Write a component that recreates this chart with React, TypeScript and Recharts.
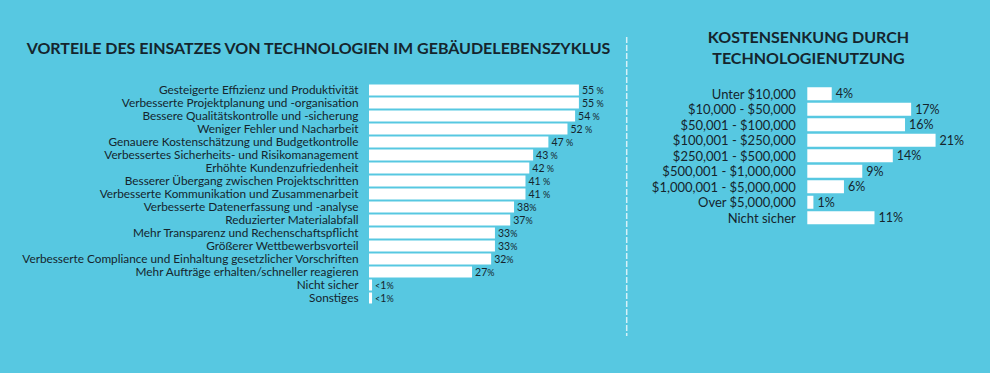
import React from "react";
import { BarChart, Bar, XAxis, YAxis, LabelList } from "recharts";

const benefitCategories = [
  "Gesteigerte Effizienz und Produktivität",
  "Verbesserte Projektplanung und -organisation",
  "Bessere Qualitätskontrolle und -sicherung",
  "Weniger Fehler und Nacharbeit",
  "Genauere Kostenschätzung und Budgetkontrolle",
  "Verbessertes Sicherheits- und Risikomanagement",
  "Erhöhte Kundenzufriedenheit",
  "Besserer Übergang zwischen Projektschritten",
  "Verbesserte Kommunikation und Zusammenarbeit",
  "Verbesserte Datenerfassung und -analyse",
  "Reduzierter Materialabfall",
  "Mehr Transparenz und Rechenschaftspflicht",
  "Größerer Wettbewerbsvorteil",
  "Verbesserte Compliance und Einhaltung gesetzlicher Vorschriften",
  "Mehr Aufträge erhalten/schneller reagieren",
  "Nicht sicher",
  "Sonstiges",
];
const benefitValues = [55, 55, 54, 52, 47, 43, 42, 41, 41, 38, 37, 33, 33, 32, 27, 0.8, 0.8];
const benefitLabels = [
  "55 %", "55 %", "54 %", "52 %", "47 %", "43 %", "42 %", "41 %", "41 %",
  "38%", "37%", "33%", "33%", "32%", "27%", "<1%", "<1%",
];

const savingsCategories = [
  "Unter $10,000",
  "$10,000 - $50,000",
  "$50,001 - $100,000",
  "$100,001 - $250,000",
  "$250,001 - $500,000",
  "$500,001 - $1,000,000",
  "$1,000,001 - $5,000,000",
  "Over $5,000,000",
  "Nicht sicher",
];
const savingsValues = [4, 17, 16, 21, 14, 9, 6, 1, 11];
const savingsLabels = ["4%", "17%", "16%", "21%", "14%", "9%", "6%", "1%", "11%"];

const leftTitle = "VORTEILE DES EINSATZES VON TECHNOLOGIEN IM GEBÄUDELEBENSZYKLUS";
const rightTitleLines = ["KOSTENSENKUNG DURCH", "TECHNOLOGIENUTZUNG"];

const BG = "#57c8e1";
const INK = "#15252d";
const FONT = "Lato, 'Open Sans', sans-serif";

const benefitData = benefitCategories.map((c, i) => ({ name: c, value: benefitValues[i], label: benefitLabels[i] }));
const savingsData = savingsCategories.map((c, i) => ({ name: c, value: savingsValues[i], label: savingsLabels[i] }));

const makeTick = (offset: number, size: number) => (props: any) => {
  const { x, y, payload } = props;
  return (
    <text x={x - offset} y={y} dy="0.36em" textAnchor="end" fill={INK} fontSize={size} fontFamily={FONT}>
      {payload.value}
    </text>
  );
};

const LeftValueLabel = (props: any) => {
  const { x, y, width, height, index } = props;
  const s = benefitLabels[index];
  return (
    <text x={x + width + 3} y={y + height / 2} dy="0.36em" fill={INK} fontSize={10.5} fontFamily={FONT}>
      {s.split("").map((ch, k) => (
        <tspan key={k} fontSize={/[0-9]/.test(ch) ? 10.5 : 9}>{ch}</tspan>
      ))}
    </text>
  );
};

const RightValueLabel = (props: any) => {
  const { x, y, width, height, index } = props;
  return (
    <text x={x + width + 4} y={y + height / 2} dy="0.36em" fill={INK} fontSize={12.5} fontFamily={FONT}>
      {savingsLabels[index]}
    </text>
  );
};

export default function App() {
  return (
    <div style={{ position: "absolute", left: 0, top: 0, width: 990, height: 373, background: BG, overflow: "hidden", fontFamily: FONT }}>
      <div style={{ position: "absolute", left: 0, top: 37.5, width: 637, textAlign: "center", fontSize: 16, lineHeight: "19px", fontWeight: 700, color: INK, whiteSpace: "nowrap" }}>
        {leftTitle}
      </div>
      <div style={{ position: "absolute", left: 623.5, top: 25.5, width: 370, textAlign: "center", fontSize: 16, lineHeight: "21.6px", fontWeight: 700, color: INK }}>
        {rightTitleLines.map((l) => (
          <div key={l}>{l}</div>
        ))}
      </div>
      <svg style={{ position: "absolute", left: 0, top: 0 }} width={990} height={373}>
        <line x1={626.7} x2={626.7} y1={37} y2={336} stroke="#d6f1f8" strokeWidth={1.5} strokeDasharray="6 2" />
      </svg>
      <div style={{ position: "absolute", left: 0, top: 0 }}>
        <BarChart width={620} height={373} data={benefitData} layout="vertical" margin={{ top: 83.5, bottom: 68.5, left: 0, right: 22 }}>
          <XAxis type="number" domain={[0, 60]} hide />
          <YAxis type="category" dataKey="name" width={369} axisLine={false} tickLine={false} tickSize={0} tickMargin={0} interval={0} tick={makeTick(10.5, 11.8)} />
          <Bar dataKey="value" fill="#ffffff" barSize={11} isAnimationActive={false}>
            <LabelList dataKey="label" content={LeftValueLabel} />
          </Bar>
        </BarChart>
      </div>
      <div style={{ position: "absolute", left: 620, top: 0 }}>
        <BarChart width={370} height={373} data={savingsData} layout="vertical" margin={{ top: 86.25, bottom: 147.25, left: 0, right: 30 }}>
          <XAxis type="number" domain={[0, 25]} hide />
          <YAxis type="category" dataKey="name" width={187.3} axisLine={false} tickLine={false} tickSize={0} tickMargin={0} interval={0} tick={makeTick(11.5, 13)} />
          <Bar dataKey="value" fill="#ffffff" barSize={13} isAnimationActive={false}>
            <LabelList dataKey="label" content={RightValueLabel} />
          </Bar>
        </BarChart>
      </div>
    </div>
  );
}
